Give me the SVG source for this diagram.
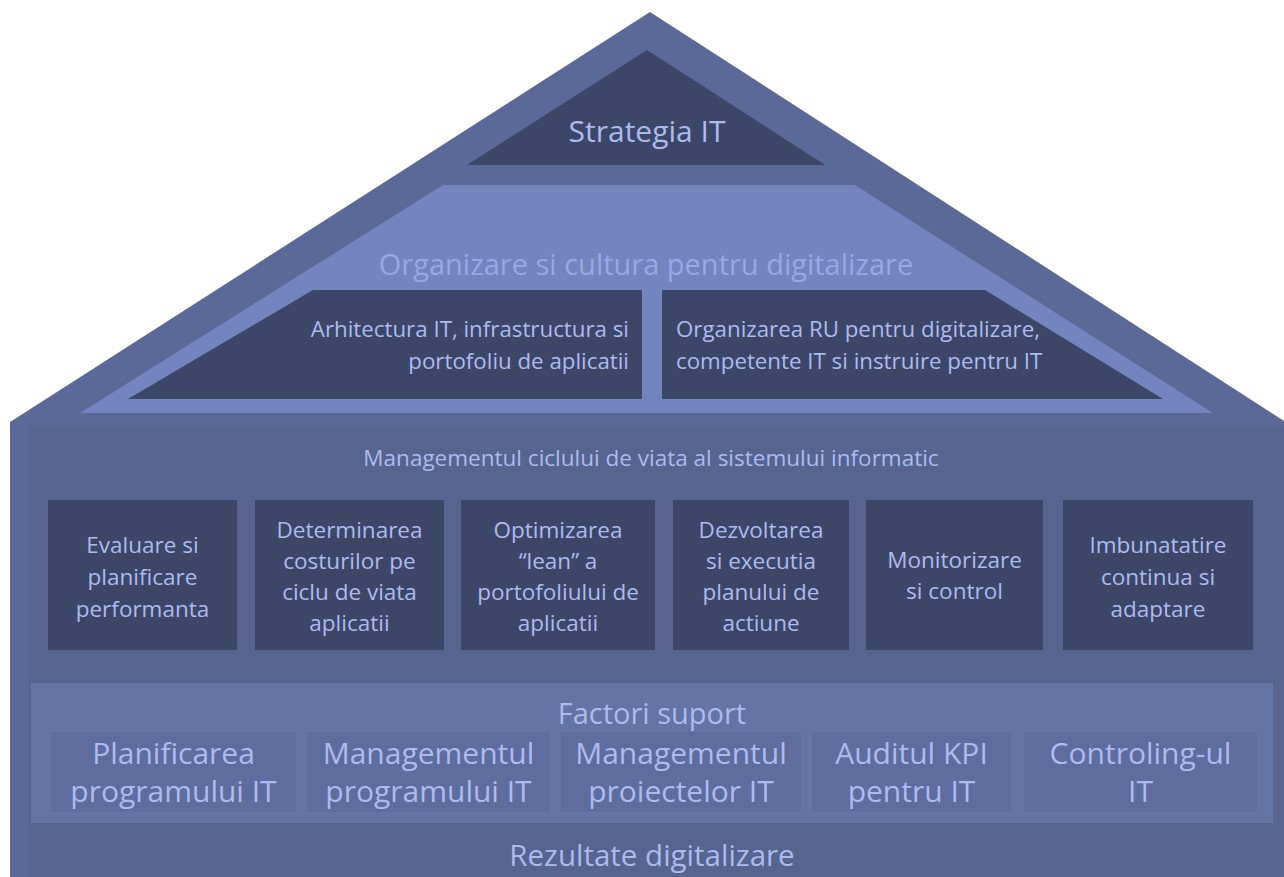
<svg xmlns="http://www.w3.org/2000/svg" width="1284" height="877" viewBox="0 0 1284 877">
  <style>
    .frame { fill: #5a6997; }
    .body { fill: #56648f; }
    .light { fill: #7384be; }
    .dark { fill: #3c4768; }
    .band { fill: #6474a4; }
    .cell { fill: #5e6d9d; }
    .t { font-family: "Open Sans", "Noto Sans", sans-serif; fill: #adbaf0; text-anchor: middle; }
    .pale { fill: #98a8e4; }
    .s22 { font-size: 22.3px; }
    .box { font-size: 22.5px; }
    .s29 { font-size: 29px; }
    .s30 { font-size: 30px; }
  </style>

  <rect width="1284" height="877" fill="#ffffff"/>

  <!-- house outline: roof and walls -->
  <g id="house">
    <polygon class="frame" points="650,12 1284,421 1284,877 10,877 10,422"/>
    <rect class="body" x="28" y="425" width="1256" height="452"/>
  </g>

  <!-- roof top -->
  <g id="strategia">
    <polygon class="dark" points="647,50 825,165 467,165"/>
    <text class="t s30" x="647" y="142">Strategia IT</text>
  </g>

  <!-- roof middle band -->
  <g id="organizare">
    <polygon class="light" points="443,185 855,185 1213,413 80,413"/>
    <text class="t pale s29" x="646" y="275">Organizare si cultura pentru digitalizare</text>
  </g>

  <g id="arhitectura">
    <polygon class="dark" points="313,290 642,290 642,399 128,399"/>
    <text class="t s22" style="text-anchor:end" x="629" y="337">Arhitectura IT, infrastructura si</text>
    <text class="t s22" style="text-anchor:end" x="629" y="369">portofoliu de aplicatii</text>
  </g>

  <g id="organizarea-ru">
    <polygon class="dark" points="662,290 985,290 1163,399 662,399"/>
    <text class="t s22" style="text-anchor:start" x="676" y="337">Organizarea RU pentru digitalizare,</text>
    <text class="t s22" style="text-anchor:start" x="676" y="369">competente IT si instruire pentru IT</text>
  </g>

  <!-- lifecycle row -->
  <g id="ciclu-title">
    <text class="t" style="font-size:22.5px" x="651" y="466">Managementul  ciclului de viata al sistemului informatic</text>
  </g>

  <g id="evaluare">
    <rect class="dark" x="48" y="500" width="189" height="150"/>
    <text class="t box" x="142.5" y="553">Evaluare si</text>
    <text class="t box" x="142.5" y="585">planificare</text>
    <text class="t box" x="142.5" y="617">performanta</text>
  </g>

  <g id="costuri">
    <rect class="dark" x="255" y="500" width="189" height="150"/>
    <text class="t box" x="349.5" y="538">Determinarea</text>
    <text class="t box" x="349.5" y="569">costurilor pe</text>
    <text class="t box" x="349.5" y="600">ciclu de viata</text>
    <text class="t box" x="349.5" y="631">aplicatii</text>
  </g>

  <g id="optimizare">
    <rect class="dark" x="461" y="500" width="194" height="150"/>
    <text class="t box" x="558" y="538">Optimizarea</text>
    <text class="t box" x="558" y="569">“lean” a</text>
    <text class="t box" x="558" y="600">portofoliului de</text>
    <text class="t box" x="558" y="631">aplicatii</text>
  </g>

  <g id="dezvoltare">
    <rect class="dark" x="673" y="500" width="176" height="150"/>
    <text class="t box" x="761" y="538">Dezvoltarea</text>
    <text class="t box" x="761" y="569">si executia</text>
    <text class="t box" x="761" y="600">planului de</text>
    <text class="t box" x="761" y="631">actiune</text>
  </g>

  <g id="monitorizare">
    <rect class="dark" x="866" y="500" width="177" height="150"/>
    <text class="t box" x="954.5" y="568">Monitorizare</text>
    <text class="t box" x="954.5" y="599">si control</text>
  </g>

  <g id="imbunatatire">
    <rect class="dark" x="1063" y="500" width="190" height="150"/>
    <text class="t box" x="1158" y="553">Imbunatatire</text>
    <text class="t box" x="1158" y="585">continua si</text>
    <text class="t box" x="1158" y="617">adaptare</text>
  </g>

  <!-- support band -->
  <g id="factori">
    <rect class="band" x="31" y="683" width="1242" height="140"/>
    <text class="t s29" x="652" y="724">Factori suport</text>
  </g>

  <g id="planificarea">
    <rect class="cell" x="51" y="732" width="245" height="80"/>
    <text class="t s30" x="173.5" y="764">Planificarea</text>
    <text class="t s30" x="173.5" y="802">programului IT</text>
  </g>

  <g id="mgmt-program">
    <rect class="cell" x="307" y="732" width="243" height="80"/>
    <text class="t s30" x="428.5" y="764">Managementul</text>
    <text class="t s30" x="428.5" y="802">programului IT</text>
  </g>

  <g id="mgmt-proiecte">
    <rect class="cell" x="561" y="732" width="240" height="80"/>
    <text class="t s30" x="681" y="764">Managementul</text>
    <text class="t s30" x="681" y="802">proiectelor IT</text>
  </g>

  <g id="audit">
    <rect class="cell" x="812" y="732" width="199" height="80"/>
    <text class="t s30" x="911.5" y="764">Auditul KPI</text>
    <text class="t s30" x="911.5" y="802">pentru IT</text>
  </g>

  <g id="controling">
    <rect class="cell" x="1024" y="732" width="233" height="80"/>
    <text class="t s30" x="1140.5" y="764">Controling-ul</text>
    <text class="t s30" x="1140.5" y="802">IT</text>
  </g>

  <!-- foundation -->
  <g id="rezultate">
    <text class="t" style="font-size:29.5px" x="652" y="866">Rezultate digitalizare</text>
  </g>
</svg>
